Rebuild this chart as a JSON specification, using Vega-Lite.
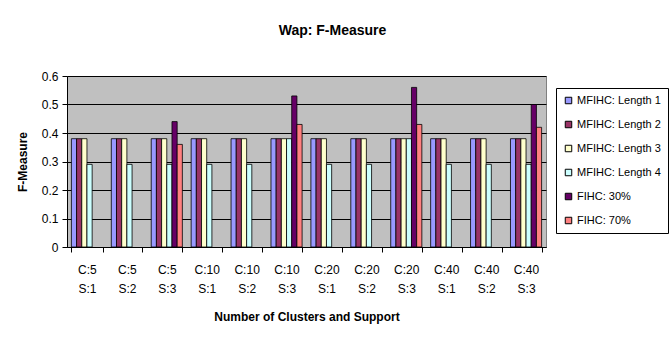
{
  "$schema": "https://vega.github.io/schema/vega-lite/v6.json",
  "width": 479,
  "height": 171,
  "autosize": {"type": "none"},
  "padding": {"left": 67, "top": 76, "right": 124, "bottom": 92},
  "background": "white",
  "title": {"text": "Wap: F-Measure", "fontSize": 14, "font": "Liberation Sans", "fontWeight": "bold", "anchor": "middle", "dx": 26, "offset": 32, "color": "black"},
  "data": {"values": [
    {"group": "C:5 S:1", "series": "MFIHC: Length 1", "value": 0.38},
    {"group": "C:5 S:1", "series": "MFIHC: Length 2", "value": 0.38},
    {"group": "C:5 S:1", "series": "MFIHC: Length 3", "value": 0.38},
    {"group": "C:5 S:1", "series": "MFIHC: Length 4", "value": 0.29},
    {"group": "C:5 S:2", "series": "MFIHC: Length 1", "value": 0.38},
    {"group": "C:5 S:2", "series": "MFIHC: Length 2", "value": 0.38},
    {"group": "C:5 S:2", "series": "MFIHC: Length 3", "value": 0.38},
    {"group": "C:5 S:2", "series": "MFIHC: Length 4", "value": 0.29},
    {"group": "C:5 S:3", "series": "MFIHC: Length 1", "value": 0.38},
    {"group": "C:5 S:3", "series": "MFIHC: Length 2", "value": 0.38},
    {"group": "C:5 S:3", "series": "MFIHC: Length 3", "value": 0.38},
    {"group": "C:5 S:3", "series": "MFIHC: Length 4", "value": 0.29},
    {"group": "C:5 S:3", "series": "FIHC: 30%", "value": 0.44},
    {"group": "C:5 S:3", "series": "FIHC: 70%", "value": 0.36},
    {"group": "C:10 S:1", "series": "MFIHC: Length 1", "value": 0.38},
    {"group": "C:10 S:1", "series": "MFIHC: Length 2", "value": 0.38},
    {"group": "C:10 S:1", "series": "MFIHC: Length 3", "value": 0.38},
    {"group": "C:10 S:1", "series": "MFIHC: Length 4", "value": 0.29},
    {"group": "C:10 S:2", "series": "MFIHC: Length 1", "value": 0.38},
    {"group": "C:10 S:2", "series": "MFIHC: Length 2", "value": 0.38},
    {"group": "C:10 S:2", "series": "MFIHC: Length 3", "value": 0.38},
    {"group": "C:10 S:2", "series": "MFIHC: Length 4", "value": 0.29},
    {"group": "C:10 S:3", "series": "MFIHC: Length 1", "value": 0.38},
    {"group": "C:10 S:3", "series": "MFIHC: Length 2", "value": 0.38},
    {"group": "C:10 S:3", "series": "MFIHC: Length 3", "value": 0.38},
    {"group": "C:10 S:3", "series": "MFIHC: Length 4", "value": 0.38},
    {"group": "C:10 S:3", "series": "FIHC: 30%", "value": 0.53},
    {"group": "C:10 S:3", "series": "FIHC: 70%", "value": 0.43},
    {"group": "C:20 S:1", "series": "MFIHC: Length 1", "value": 0.38},
    {"group": "C:20 S:1", "series": "MFIHC: Length 2", "value": 0.38},
    {"group": "C:20 S:1", "series": "MFIHC: Length 3", "value": 0.38},
    {"group": "C:20 S:1", "series": "MFIHC: Length 4", "value": 0.29},
    {"group": "C:20 S:2", "series": "MFIHC: Length 1", "value": 0.38},
    {"group": "C:20 S:2", "series": "MFIHC: Length 2", "value": 0.38},
    {"group": "C:20 S:2", "series": "MFIHC: Length 3", "value": 0.38},
    {"group": "C:20 S:2", "series": "MFIHC: Length 4", "value": 0.29},
    {"group": "C:20 S:3", "series": "MFIHC: Length 1", "value": 0.38},
    {"group": "C:20 S:3", "series": "MFIHC: Length 2", "value": 0.38},
    {"group": "C:20 S:3", "series": "MFIHC: Length 3", "value": 0.38},
    {"group": "C:20 S:3", "series": "MFIHC: Length 4", "value": 0.38},
    {"group": "C:20 S:3", "series": "FIHC: 30%", "value": 0.56},
    {"group": "C:20 S:3", "series": "FIHC: 70%", "value": 0.43},
    {"group": "C:40 S:1", "series": "MFIHC: Length 1", "value": 0.38},
    {"group": "C:40 S:1", "series": "MFIHC: Length 2", "value": 0.38},
    {"group": "C:40 S:1", "series": "MFIHC: Length 3", "value": 0.38},
    {"group": "C:40 S:1", "series": "MFIHC: Length 4", "value": 0.29},
    {"group": "C:40 S:2", "series": "MFIHC: Length 1", "value": 0.38},
    {"group": "C:40 S:2", "series": "MFIHC: Length 2", "value": 0.38},
    {"group": "C:40 S:2", "series": "MFIHC: Length 3", "value": 0.38},
    {"group": "C:40 S:2", "series": "MFIHC: Length 4", "value": 0.29},
    {"group": "C:40 S:3", "series": "MFIHC: Length 1", "value": 0.38},
    {"group": "C:40 S:3", "series": "MFIHC: Length 2", "value": 0.38},
    {"group": "C:40 S:3", "series": "MFIHC: Length 3", "value": 0.38},
    {"group": "C:40 S:3", "series": "MFIHC: Length 4", "value": 0.29},
    {"group": "C:40 S:3", "series": "FIHC: 30%", "value": 0.50},
    {"group": "C:40 S:3", "series": "FIHC: 70%", "value": 0.42}
  ]},
  "mark": {"type": "bar", "stroke": "black", "strokeWidth": 0.8},
  "encoding": {
    "x": {
      "field": "group", "type": "nominal",
      "sort": ["C:5 S:1", "C:5 S:2", "C:5 S:3", "C:10 S:1", "C:10 S:2", "C:10 S:3", "C:20 S:1", "C:20 S:2", "C:20 S:3", "C:40 S:1", "C:40 S:2", "C:40 S:3"],
      "scale": {"paddingInner": 0.22, "paddingOuter": 0.11},
      "axis": {
        "title": "Number of Clusters and Support",
        "titleFontSize": 12, "titleFontWeight": "bold", "titleColor": "black", "titlePadding": 17,
        "labelAngle": 0, "labelFontSize": 12, "labelColor": "black", "labelLineHeight": 19,
        "labelExpr": "split(datum.label, ' ')",
        "tickBand": "extent", "tickSize": 5, "tickColor": "black", "domainColor": "black",
        "labelPadding": 12, "grid": false
      }
    },
    "xOffset": {
      "field": "series", "type": "nominal",
      "scale": {"domain": ["MFIHC: Length 1", "MFIHC: Length 2", "MFIHC: Length 3", "MFIHC: Length 4", "FIHC: 30%", "FIHC: 70%"]}
    },
    "y": {
      "field": "value", "type": "quantitative",
      "scale": {"domain": [0, 0.6], "nice": false},
      "axis": {
        "title": "F-Measure", "titleFontSize": 12, "titleFontWeight": "bold", "titleColor": "black", "titlePadding": 12,
        "values": [0, 0.1, 0.2, 0.3, 0.4, 0.5, 0.6], "format": ".1~f",
        "labelFontSize": 12, "labelColor": "black", "labelPadding": 4,
        "tickSize": 5, "tickColor": "black", "domainColor": "black",
        "grid": true, "gridColor": "black", "gridOpacity": 1, "gridWidth": 1
      }
    },
    "color": {
      "field": "series", "type": "nominal",
      "scale": {
        "domain": ["MFIHC: Length 1", "MFIHC: Length 2", "MFIHC: Length 3", "MFIHC: Length 4", "FIHC: 30%", "FIHC: 70%"],
        "range": ["#9999FF", "#993366", "#FFFFCC", "#CCFFFF", "#660066", "#FF8080"]
      },
      "legend": {
        "title": null, "orient": "none", "legendX": 489, "legendY": 12, "direction": "vertical",
        "labelFontSize": 11, "labelColor": "black", "labelOffset": 3,
        "symbolType": "square", "symbolSize": 42, "symbolStrokeColor": "black", "symbolStrokeWidth": 1, "symbolOpacity": 1,
        "strokeColor": "black", "fillColor": "white", "padding": 7, "rowPadding": 12
      }
    }
  },
  "config": {
    "font": "Liberation Sans",
    "view": {"fill": "#C0C0C0", "stroke": "#808080"}
  }
}
